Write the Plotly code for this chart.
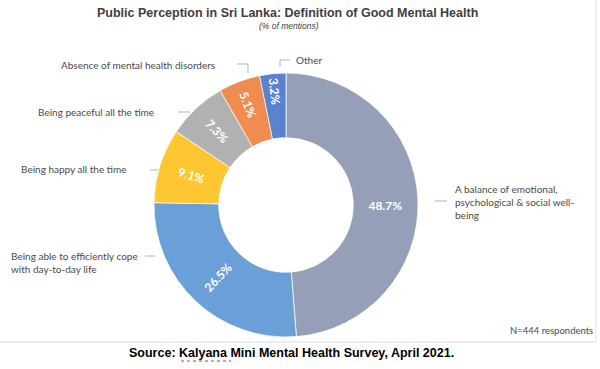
import plotly.graph_objects as go

categories = [
    "A balance of emotional, psychological & social well-being",
    "Being able to efficiently cope with day-to-day life",
    "Being happy all the time",
    "Being peaceful all the time",
    "Absence of mental health disorders",
    "Other",
]
values = [48.7, 26.5, 9.1, 7.3, 5.1, 3.2]
pct_labels = ["48.7%", "26.5%", "9.1%", "7.3%", "5.1%", "3.2%"]
colors = ["#95a0b8", "#6a9fd7", "#fec631", "#b1b1b1", "#ef8c50", "#5a82cf"]

# outside label texts (display form)
label_texts = [
    "A balance of emotional,<br>psychological & social well-<br>being",
    "Being able to efficiently cope<br>with day-to-day life",
    "Being happy all the time",
    "Being peaceful all the time",
    "Absence of mental health disorders",
    "Other",
]

W, H = 600, 369
cx, cy, R = 286, 205, 132

fig = go.Figure()
fig.add_trace(go.Pie(
    labels=categories,
    values=values,
    text=pct_labels,
    textinfo="text",
    textposition="inside",
    insidetextorientation="radial",
    textfont=dict(family="Lato", size=12, color="white", weight="bold"),
    sort=False,
    direction="clockwise",
    rotation=0,
    hole=0.51,
    marker=dict(colors=colors, line=dict(color="rgba(255,255,255,0.7)", width=1)),
    domain=dict(x=[(cx - R) / W, (cx + R) / W], y=[(H - cy - R) / H, (H - cy + R) / H]),
    showlegend=False,
))

def px(x):
    return x / W

def py(y):
    return 1 - y / H

label_font = dict(family="Lato", size=10, color="#4a4a4a")
# (text, x, y)
label_pos = [
    (label_texts[0], 453, 202),
    (label_texts[1], 9, 262),
    (label_texts[2], 19, 169),
    (label_texts[3], 36, 112),
    (label_texts[4], 59, 65),
    (label_texts[5], 294, 60),
]
annotations = []
for t, x, y in label_pos:
    annotations.append(dict(text=t, x=px(x), y=py(y), xref="paper", yref="paper",
                            xanchor="left", yanchor="middle", showarrow=False,
                            align="left", font=label_font))

annotations += [
    dict(text="<b>Public Perception in Sri Lanka: Definition of Good Mental Health</b>",
         x=px(287), y=py(13), xref="paper", yref="paper", showarrow=False,
         font=dict(family="Liberation Sans", size=12.5, color="#404040"), xanchor="center", yanchor="middle"),
    dict(text="<i>(% of mentions)</i>",
         x=px(289), y=py(26), xref="paper", yref="paper", showarrow=False,
         font=dict(family="Liberation Sans", size=8.5, color="#404040"), xanchor="center", yanchor="middle"),
    dict(text="N=444 respondents", x=px(508), y=py(330), xref="paper", yref="paper",
         showarrow=False, xanchor="left", yanchor="middle",
         font=dict(family="Lato", size=9.5, color="#4a4a4a")),
    dict(text="<b>Source: Kalyana Mini Mental Health Survey, April 2021.</b>",
         x=px(291), y=py(353), xref="paper", yref="paper", showarrow=False,
         xanchor="center", yanchor="middle",
         font=dict(family="Liberation Sans", size=12.5, color="black")),
]

line_style = dict(color="#9fb6d6", width=1)
leader_paths = [
    [(435, 201), (447, 201)],
    [(145, 256), (155, 256)],
    [(150, 170), (158, 170)],
    [(178, 112), (190, 112)],
    [(237, 64), (248, 64), (248, 73)],
    [(280, 67), (280, 60), (290, 60)],
]
shapes = []
for pts in leader_paths:
    path = "M " + " L ".join(f"{px(x)},{py(y)}" for x, y in pts)
    shapes.append(dict(type="path", path=path, xref="paper", yref="paper", line=line_style))

# chart frame
shapes.append(dict(type="line", x0=0, x1=px(596), y0=py(342), y1=py(342), xref="paper", yref="paper",
                   line=dict(color="#e6e6e6", width=1.5)))
shapes.append(dict(type="line", x0=px(596), x1=px(596), y0=py(0), y1=py(342), xref="paper", yref="paper",
                   line=dict(color="#ececec", width=1.5)))
# spell-check squiggle under "Kalyana"
shapes.append(dict(type="line", x0=px(181), x1=px(231), y0=py(361), y1=py(361), xref="paper", yref="paper",
                   line=dict(color="#e03030", width=1, dash="dot")))

fig.update_layout(
    width=W, height=H,
    margin=dict(l=0, r=0, t=0, b=0),
    paper_bgcolor="white",
    plot_bgcolor="white",
    annotations=annotations,
    shapes=shapes,
)

fig.write_html("out.html", config={"displayModeBar": False},
               post_script="document.body.style.margin='0';document.body.style.padding='0';")
